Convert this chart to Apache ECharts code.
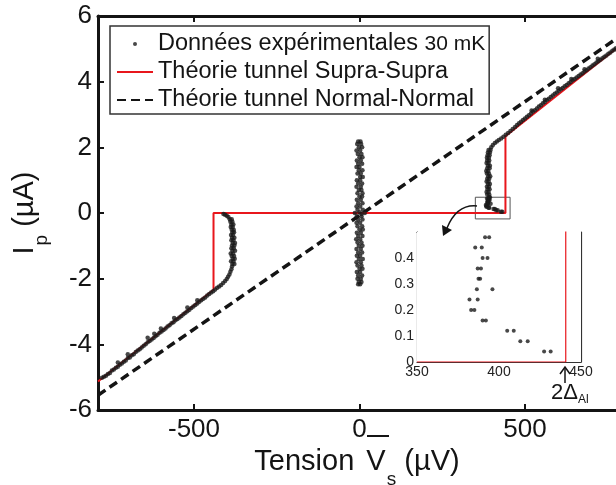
<!DOCTYPE html>
<html>
<head>
<meta charset="utf-8">
<script src="https://cdn.jsdelivr.net/npm/echarts@6.0.0/dist/echarts.min.js"></script>
<style>
  html, body { margin: 0; padding: 0; background: #fff; }
  #chart { width: 616px; height: 485px; }
</style>
</head>
<body>
<div id="chart"></div>
<script>
// ---- données ----
var xTicks = [-500, 0, 500];
var yTicks = [-6, -4, -2, 0, 2, 4, 6];

// branche négative (V < -440 µV), le long de la théorie S-S
var dataLeftBranch = [
  [-778,-5.02],[-772,-4.99],[-766,-4.96],[-760,-4.90],[-754,-4.87],[-748,-4.80],[-742,-4.77],[-736,-4.71],
  [-730,-4.68],[-724,-4.62],[-718,-4.58],[-712,-4.53],[-706,-4.49],[-700,-4.42],[-694,-4.40],[-688,-4.33],
  [-682,-4.30],[-676,-4.23],[-670,-4.19],[-664,-4.15],[-658,-4.10],[-652,-4.04],[-646,-4.00],[-640,-3.94],
  [-634,-3.90],[-628,-3.85],[-622,-3.81],[-616,-3.75],[-610,-3.71],[-604,-3.65],[-598,-3.61],[-592,-3.56],
  [-586,-3.52],[-580,-3.46],[-574,-3.42],[-568,-3.36],[-562,-3.33],[-556,-3.27],[-550,-3.23],[-544,-3.18],
  [-538,-3.14],[-532,-3.08],[-526,-3.04],[-520,-2.99],[-514,-2.95],[-508,-2.89],[-502,-2.85],[-496,-2.80],
  [-490,-2.76],[-484,-2.70],[-478,-2.66],[-472,-2.61],[-466,-2.57],[-460,-2.51],[-454,-2.47],[-448,-2.42],
  [-442,-2.38],
  [-730,-4.55],[-700,-4.30],[-640,-3.80],[-620,-3.68],[-600,-3.52],[-560,-3.20],[-520,-2.88],[-490,-2.66]
];
// remontée et saut vertical côté négatif
var dataLeftJump = [
  [-436,-2.33],[-430,-2.28],[-424,-2.24],[-418,-2.19],[-412,-2.13],[-406,-2.07],[-401,-2.01],[-397,-1.94],
  [-393,-1.87],[-390,-1.79],[-387,-1.71],[-385,-1.63],
  [-384,-1.55],[-378,-1.55],[-388,-1.47],[-381,-1.47],[-383,-1.39],[-377,-1.39],[-386,-1.31],[-379,-1.31],
  [-389,-1.23],[-382,-1.23],[-384,-1.15],[-376,-1.15],[-387,-1.07],[-380,-1.07],[-385,-0.99],[-378,-0.99],
  [-383,-0.91],[-376,-0.91],[-387,-0.83],[-381,-0.83],[-385,-0.75],[-378,-0.75],[-388,-0.67],[-382,-0.67],
  [-384,-0.59],[-379,-0.59],[-386,-0.51],[-380,-0.51],[-389,-0.43],[-383,-0.43],[-387,-0.35],[-381,-0.35],
  [-390,-0.27],[-384,-0.27],[-392,-0.19],[-386,-0.19],
  [-396,-0.12],[-401,-0.08],[-406,-0.05],[-411,-0.03]
];
// supercourant autour de V = 0
var dataCenter = [
  [-4,2.18],[3,2.18],[-7,2.10],[5,2.10],[-2,2.00],[8,2.00],[-9,1.90],[2,1.90],[-5,1.80],[6,1.80],
  [0,1.70],[9,1.70],[-8,1.60],[4,1.60],[-4,1.50],[8,1.50],[-9,1.40],[0,1.40],[-2,1.30],[9,1.30],
  [-6,1.20],[4,1.20],[2,1.10],[10,1.10],[-8,1.00],[2,1.00],[-4,0.90],[8,0.90],[-9,0.80],[4,0.80],
  [-2,0.70],[6,0.70],[-6,0.60],[9,0.60],[0,0.50],[8,0.50],[-8,0.40],[4,0.40],[-4,0.30],[9,0.30],
  [-9,0.20],[2,0.20],[-6,0.10],[10,0.10],[-14,0.00],[16,0.00],[0,0.02],[6,-0.03],
  [-8,-0.10],[6,-0.10],[-4,-0.20],[9,-0.20],[-9,-0.30],[2,-0.30],[-6,-0.40],[8,-0.40],
  [0,-0.50],[10,-0.50],[-8,-0.60],[4,-0.60],[-4,-0.70],[9,-0.70],[-10,-0.80],[2,-0.80],
  [-6,-0.90],[6,-0.90],[-2,-1.00],[9,-1.00],[-9,-1.10],[4,-1.10],[-4,-1.20],[8,-1.20],
  [-8,-1.30],[2,-1.30],[-2,-1.40],[10,-1.40],[-9,-1.50],[4,-1.50],[-6,-1.60],[6,-1.60],
  [0,-1.70],[9,-1.70],[-8,-1.80],[2,-1.80],[-4,-1.90],[8,-1.90],[-6,-2.00],[4,-2.00],
  [-2,-2.10],[6,-2.10],[-4,-2.17],[2,-2.17]
];
// points du zoom (encart) : 350-450 µV, 0-0.5 µA
var dataZoom = [
  [391.5,0.48],[394,0.48],[385.5,0.44],[389.5,0.44],[390,0.40],[393,0.40],[387,0.36],[389,0.36],
  [387.5,0.32],[388.5,0.32],[386.5,0.28],[396,0.28],[382,0.24],[387,0.24],[383,0.20],[385,0.20],
  [390,0.16],[392,0.16],[405,0.12],[409,0.12],[413,0.08],[417.5,0.08],[427.5,0.04],[431.5,0.04]
];
// saut vertical côté positif
var dataRightJump = [
  [386,0.56],[392,0.56],[384,0.64],[390,0.64],[387,0.72],[393,0.72],[385,0.80],[391,0.80],
  [388,0.88],[394,0.88],[384,0.96],[390,0.96],[386,1.04],[392,1.04],[389,1.12],[395,1.12],
  [385,1.20],[391,1.20],[383,1.28],[389,1.28],[386,1.36],[393,1.36],[388,1.44],[394,1.44],
  [384,1.52],[390,1.52],[386,1.60],[392,1.60],[385,1.68],[391,1.68],[387,1.76],[393,1.76],
  [388,1.84],[394,1.84],[390,1.92],[396,1.92],
  [398,2.00],[403,2.07],[409,2.13],[415,2.18],[421,2.22],[428,2.27],[435,2.32],[442,2.38],
  [449,2.44],[456,2.50],[463,2.56]
];
// branche positive (V > 440 µV)
var dataRightBranch = [
  [470,2.62],[476,2.68],[482,2.73],[488,2.78],[494,2.83],[500,2.88],[506,2.93],[512,2.98],
  [518,3.03],[524,3.09],[530,3.13],[536,3.18],[542,3.24],[548,3.28],[554,3.34],[560,3.38],
  [566,3.44],[572,3.48],[578,3.53],[584,3.58],[590,3.63],[596,3.67],[602,3.72],[608,3.77],
  [614,3.81],[620,3.86],[626,3.90],[632,3.95],[638,3.99],[644,4.04],[650,4.08],[656,4.13],
  [662,4.17],[668,4.22],[674,4.26],[680,4.31],[686,4.35],[692,4.40],[698,4.44],[704,4.49],
  [710,4.53],[716,4.58],[722,4.62],[728,4.67],[734,4.71],[740,4.76],[746,4.80],[752,4.85],
  [758,4.89],[764,4.94],[770,4.98],[775,5.02],
  [520,3.12],[560,3.45],[600,3.80],[640,4.08],[680,4.38],[720,4.70]
];

// théorie tunnel Supra-Supra (gap 2Δ ≈ 441 µV)
var supraLine = [[-790,-5.13],[-441,-2.34],[-441,0],[441,0],[441,2.34],[775,5.0]];
// théorie tunnel Normal-Normal
var normalLine = [[-790,-5.55],[775,5.30]];
// encart
var insetSupraLine = [[350,0],[440.7,0],[440.7,0.6]];
var zoomBox = [[350,-0.18],[455,0.48]];

var expName = 'Données expérimentales';
var ssName = 'Théorie tunnel Supra-Supra';
var nnName = 'Théorie tunnel Normal-Normal';

var FONT = '"Liberation Sans", Arial, sans-serif';
var INK = '#141414';
var RED = '#e8161c';

var expData = dataLeftBranch.concat(dataLeftJump, dataCenter, dataZoom, dataRightJump, dataRightBranch);

var mainAxisLine = { show: true, onZero: false, lineStyle: { color: INK, width: 3 } };
var mainTick = { show: true, inside: true, length: 6, lineStyle: { color: INK, width: 2 } };
var insetAxisLine = { show: true, onZero: false, lineStyle: { color: '#333', width: 1.2 } };
var insetTick = { show: true, inside: true, length: 4, lineStyle: { color: '#333', width: 1 } };

var titleRich = {
  t: { fontSize: 29, color: INK, fontFamily: FONT },
  v: { fontSize: 29, color: INK, fontFamily: FONT, padding: [0, 0, 0, 4] },
  sub: { fontSize: 19, color: INK, fontFamily: FONT, padding: [34, 0, 0, 1] }
};

var chart = echarts.init(document.getElementById('chart'), null, { renderer: 'canvas' });

var option = {
  animation: false,
  backgroundColor: '#fff',
  textStyle: { fontFamily: FONT },
  grid: [
    { left: 98, right: 0, top: 16, bottom: 75, outerBoundsMode: 'none', containLabel: false },
    { left: 417, top: 232, width: 164, height: 130, outerBoundsMode: 'none', containLabel: false,
      show: true, backgroundColor: '#fff', borderWidth: 0, z: 5 }
  ],
  legend: {
    left: 110, top: 26, orient: 'vertical',
    itemWidth: 36, itemHeight: 4, itemGap: 4,
    padding: [6, 4, 2, 6],
    borderColor: '#333', borderWidth: 1.5, backgroundColor: '#fff',
    textStyle: { fontSize: 23.5, color: INK, fontFamily: FONT,
      rich: { s: { fontSize: 21, color: INK, fontFamily: FONT } } },
    formatter: function (name) {
      return name === expName ? name + ' {s|30 mK}' : name;
    },
    data: [
      { name: expName, icon: 'circle' },
      { name: ssName, itemStyle: { opacity: 0 } },
      { name: nnName, itemStyle: { opacity: 0 } }
    ]
  },
  xAxis: [
    {
      gridIndex: 0, type: 'value', min: -790, max: 775, position: 'bottom',
      axisLine: mainAxisLine, axisTick: Object.assign({ customValues: xTicks }, mainTick),
      axisLabel: { customValues: xTicks, fontSize: 26, color: INK, margin: 7, fontFamily: FONT },
      splitLine: { show: false },
      name: '{t|Tension }{v|V}{sub|s}{t| (µV)}', nameLocation: 'middle', nameGap: 14,
      nameTextStyle: { fontSize: 29, color: INK, fontFamily: FONT, rich: titleRich }
    },
    {
      gridIndex: 0, type: 'value', min: -790, max: 775, position: 'top',
      axisLine: mainAxisLine, axisTick: Object.assign({ customValues: xTicks }, mainTick),
      axisLabel: { show: false }, splitLine: { show: false }
    },
    {
      gridIndex: 1, type: 'value', min: 350, max: 450, interval: 50, position: 'bottom',
      axisLine: insetAxisLine, axisTick: insetTick,
      axisLabel: { fontSize: 14, color: '#222', margin: 3, fontFamily: FONT },
      splitLine: { show: false }
    },
    {
      gridIndex: 1, type: 'value', min: 350, max: 450, interval: 50, position: 'top',
      axisLine: insetAxisLine, axisTick: insetTick,
      axisLabel: { show: false }, splitLine: { show: false }
    }
  ],
  yAxis: [
    {
      gridIndex: 0, type: 'value', min: -6, max: 6, interval: 2, position: 'left',
      axisLine: mainAxisLine, axisTick: mainTick,
      axisLabel: { fontSize: 26, color: INK, margin: 6, fontFamily: FONT },
      splitLine: { show: false },
      name: '{t|I}{sub|p}{t| (µA)}', nameLocation: 'middle', nameRotate: 90, nameGap: 47,
      nameTextStyle: { fontSize: 29, color: INK, fontFamily: FONT, rich: titleRich }
    },
    {
      gridIndex: 1, type: 'value', min: 0, max: 0.5, interval: 0.1, position: 'left',
      axisLine: insetAxisLine, axisTick: insetTick,
      axisLabel: { fontSize: 14, color: '#222', margin: 3, showMaxLabel: false, fontFamily: FONT },
      splitLine: { show: false }
    },
    {
      gridIndex: 1, type: 'value', min: 0, max: 0.5, interval: 0.1, position: 'right',
      axisLine: insetAxisLine, axisTick: insetTick,
      axisLabel: { show: false }, splitLine: { show: false }
    }
  ],
  series: [
    {
      name: nnName, type: 'line', xAxisIndex: 0, yAxisIndex: 0,
      data: normalLine, symbol: 'none', z: 2,
      lineStyle: { color: INK, width: 3.5, type: [9, 5] }, itemStyle: { color: INK }
    },
    {
      name: ssName, type: 'line', xAxisIndex: 0, yAxisIndex: 0,
      data: supraLine, symbol: 'none', z: 3,
      lineStyle: { color: RED, width: 2 }, itemStyle: { color: RED },
      markArea: {
        silent: true,
        itemStyle: { color: 'rgba(0,0,0,0)', borderColor: '#555', borderWidth: 1 },
        data: [[{ coord: zoomBox[0] }, { coord: zoomBox[1] }]]
      }
    },
    {
      name: expName, type: 'scatter', xAxisIndex: 0, yAxisIndex: 0,
      data: expData, symbolSize: 4.5, z: 4,
      itemStyle: { color: '#1a1a1a' }
    },
    {
      name: 'encart théorie', type: 'line', xAxisIndex: 2, yAxisIndex: 1,
      data: insetSupraLine, symbol: 'none', z: 6, clip: true,
      lineStyle: { color: RED, width: 1.2 }
    },
    {
      name: 'encart données', type: 'scatter', xAxisIndex: 2, yAxisIndex: 1,
      data: dataZoom, symbolSize: 4, z: 7,
      itemStyle: { color: '#1a1a1a' }
    }
  ],
  graphic: [
    // barre au-dessus de V
    { type: 'line', shape: { x1: 367, y1: 436, x2: 389, y2: 436 }, style: { stroke: INK, lineWidth: 2 }, z: 10 },
    // flèche courbe du petit cadre vers l'encart
    { type: 'bezierCurve', shape: { x1: 477, y1: 206, cpx1: 457, cpy1: 204, x2: 447, y2: 228 },
      style: { stroke: INK, lineWidth: 1.5, fill: null }, z: 10 },
    { type: 'polygon', shape: { points: [[443, 236], [442, 225], [452, 230]] }, style: { fill: INK }, z: 10 },
    // flèche 2Δ_Al
    { type: 'line', shape: { x1: 565, y1: 383, x2: 565, y2: 368 }, style: { stroke: INK, lineWidth: 1.5 }, z: 10 },
    { type: 'polyline', shape: { points: [[560, 374], [565, 367], [570, 374]] }, style: { stroke: INK, lineWidth: 1.5, fill: null }, z: 10 },
    { type: 'text', z: 10,
      style: { text: '2Δ{a|Al}', x: 551, y: 393, verticalAlign: 'middle', fill: INK,
        font: '22px "Liberation Sans", Arial, sans-serif',
        rich: { a: { fontSize: 12, fill: INK, fontFamily: FONT, padding: [14, 0, 0, 0] } } } }
  ]
};

chart.setOption(option);
</script>
</body>
</html>
